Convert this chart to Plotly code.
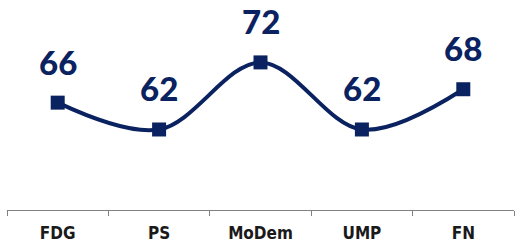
import plotly.graph_objects as go

categories = ["FDG", "PS", "MoDem", "UMP", "FN"]
values = [66, 62, 72, 62, 68]
labels = ["66", "62", "72", "62", "68"]

navy = "#0B2260"

fig = go.Figure()
fig.add_trace(go.Scatter(
    x=categories, y=values, mode="lines+markers",
    line=dict(color=navy, width=4, shape="spline", smoothing=1),
    marker=dict(symbol="square", size=14, color=navy),
    hoverinfo="skip",
))
for c, v, t in zip(categories, values, labels):
    fig.add_annotation(x=c, y=v, text=t, showarrow=False, yshift=41,
                       font=dict(family="Lato", size=33, color=navy, weight=900))

fig.update_layout(
    width=515, height=245,
    margin=dict(l=7, r=1, t=0, b=35),
    paper_bgcolor="white", plot_bgcolor="white",
    showlegend=False,
    xaxis=dict(type="category", range=[-0.5, 4.5], tickson="boundaries", ticks="outside", ticklen=5,
               tickcolor="#808080", showline=True, linecolor="#808080", linewidth=1,
               showgrid=False, zeroline=False, automargin=False, ticklabelstandoff=8,
               tickfont=dict(family="DejaVu Sans Condensed", size=17, color="#1a1a1a", weight="bold")),
    yaxis=dict(range=[50, 81.3], visible=False, showgrid=False, zeroline=False),
)
fig.write_html("out.html", config={"displayModeBar": False},
               post_script="document.body.style.margin='0';")
